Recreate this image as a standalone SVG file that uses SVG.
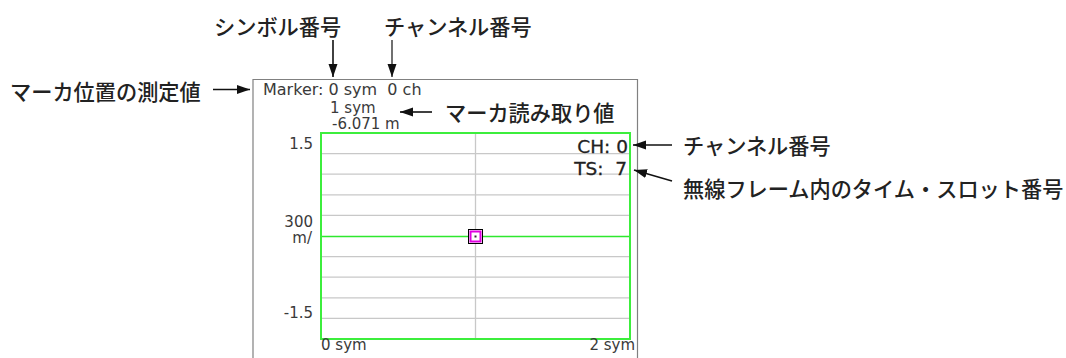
<svg xmlns="http://www.w3.org/2000/svg" width="1066" height="358" viewBox="0 0 1066 358">
<style>
.jp{font-family:"Noto Sans CJK JP","Noto Sans",sans-serif;font-size:21.2px;font-weight:500;fill:#222}
.scr{font-family:"DejaVu Sans","Liberation Sans",sans-serif;font-size:15px;fill:#3a3a3a}
.big{font-family:"DejaVu Sans","Liberation Sans",sans-serif;font-size:18.5px;fill:#222;stroke:#222;stroke-width:0.3}
.grid{stroke:#c8c8c8;stroke-width:1.3;fill:none}
.arrow{stroke:#111;stroke-width:1.6;fill:none;marker-end:url(#ah)}
</style>
<defs>
<marker id="ah" markerUnits="userSpaceOnUse" markerWidth="14" markerHeight="10" refX="13" refY="5" orient="auto">
<path d="M0,0.5 L13,5 L0,9.5 Z" fill="#111"/>
</marker>
</defs>
<rect width="1066" height="358" fill="#fff"/>
<g id="screen">
<path d="M253,358 V79.5 H637.5 V358" fill="none" stroke="#808080" stroke-width="1.2"/>
<text class="scr" x="263" y="95" style="font-size:16px" xml:space="preserve">Marker: 0 sym  0 ch</text>
<text class="scr" x="330" y="112.5">1 sym</text>
<text class="scr" x="332" y="128.5">-6.071 m</text>
<g id="grid">
<line class="grid" x1="322" y1="153.6" x2="629" y2="153.6"/>
<line class="grid" x1="322" y1="174.2" x2="629" y2="174.2"/>
<line class="grid" x1="322" y1="194.8" x2="629" y2="194.8"/>
<line class="grid" x1="322" y1="215.4" x2="629" y2="215.4"/>
<line class="grid" x1="322" y1="256.6" x2="629" y2="256.6"/>
<line class="grid" x1="322" y1="277.2" x2="629" y2="277.2"/>
<line class="grid" x1="322" y1="297.8" x2="629" y2="297.8"/>
<line class="grid" x1="322" y1="318.4" x2="629" y2="318.4"/>
<line class="grid" x1="475.5" y1="134" x2="475.5" y2="338"/>
<line x1="322" y1="236.5" x2="629" y2="236.5" stroke="#2ee82e" stroke-width="1.6"/>
<rect x="321" y="133" width="309" height="206" fill="none" stroke="#3cee3c" stroke-width="2"/>
</g>
<text class="scr" x="313" y="149" text-anchor="end">1.5</text>
<text class="scr" x="313" y="226.5" text-anchor="end">300</text>
<text class="scr" x="312" y="243" text-anchor="end">m/</text>
<text class="scr" x="313" y="318" text-anchor="end">-1.5</text>
<text class="scr" x="321" y="350">0 sym</text>
<text class="scr" x="635" y="350" text-anchor="end">2 sym</text>
<text class="big" x="628" y="153" text-anchor="end">CH: 0</text>
<text class="big" x="627" y="175" text-anchor="end" xml:space="preserve">TS:  7</text>
<g id="marker">
<rect x="468.5" y="229.5" width="14" height="14" fill="#fff" stroke="#000" stroke-width="1"/>
<rect x="470.5" y="231.5" width="10" height="10" fill="#fff" stroke="#e000e0" stroke-width="2"/>
<rect x="474.5" y="235.5" width="2" height="2" fill="#303030"/>
</g>
</g>
<g id="labels">
<text class="jp" x="214" y="34.5">シンボル番号</text>
<text class="jp" x="384" y="34.5">チャンネル番号</text>
<text class="jp" x="10" y="99.5">マーカ位置の測定値</text>
<text class="jp" x="445" y="121">マーカ読み取り値</text>
<text class="jp" x="683" y="153.5">チャンネル番号</text>
<text class="jp" x="683" y="197">無線フレーム内のタイム・スロット番号</text>
</g>
<g id="connectors">
<line class="arrow" x1="333" y1="40" x2="333" y2="77"/>
<line class="arrow" x1="392" y1="40" x2="392" y2="77" style="stroke-width:1.2"/>
<line class="arrow" x1="213" y1="89.5" x2="250" y2="89.5"/>
<line class="arrow" x1="432" y1="112" x2="400" y2="112"/>
<line class="arrow" x1="672" y1="145" x2="633" y2="145"/>
<line class="arrow" x1="672" y1="181" x2="634" y2="170"/>
</g>
</svg>
